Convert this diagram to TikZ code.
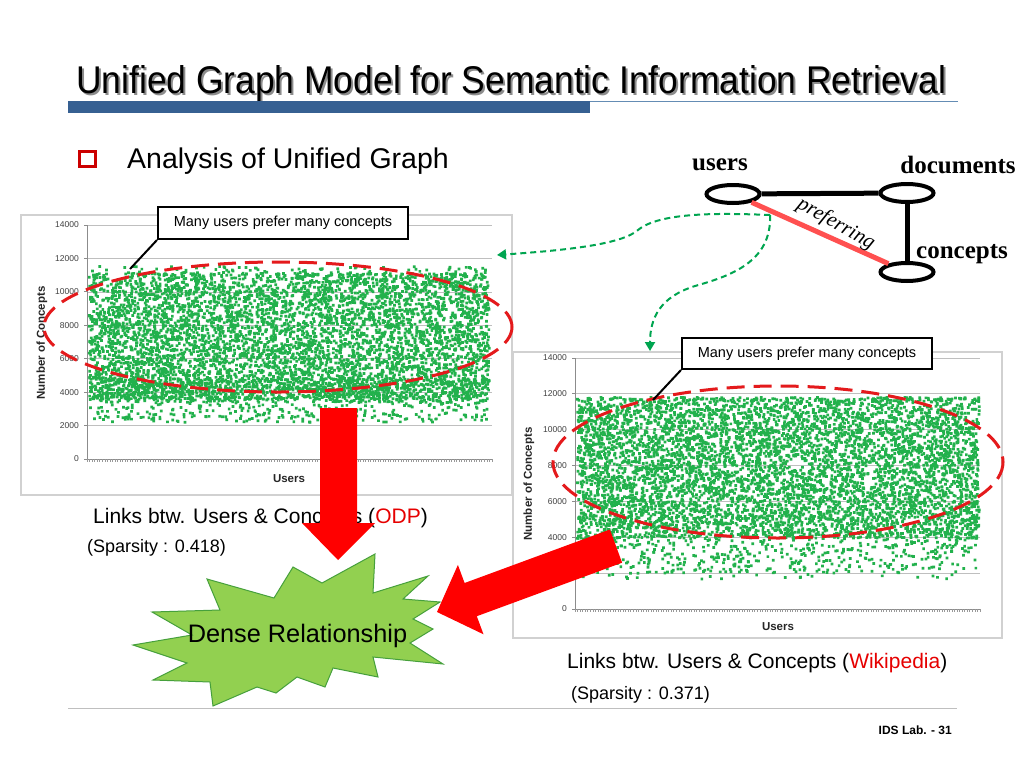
\documentclass[tikz,border=0pt]{standalone}
\usepackage{fontspec}
\setmainfont{Liberation Sans}
\newfontfamily\tnr{Liberation Serif}
\usepackage{graphicx}
\usetikzlibrary{arrows.meta,shapes.geometric}
\definecolor{barblue}{RGB}{54,96,146}
\definecolor{lineblue}{RGB}{100,140,180}
\definecolor{ptgreen}{RGB}{34,177,76}
\definecolor{hired}{RGB}{228,26,28}
\definecolor{flowgreen}{RGB}{0,165,80}
\definecolor{linkred}{RGB}{255,80,80}
\definecolor{starfill}{RGB}{146,208,80}
\definecolor{starline}{RGB}{70,160,60}
\definecolor{capred}{RGB}{230,0,0}
\tikzset{
  chartframe/.style={draw=black!18, line width=1.3, fill=white},
  gridline/.style={draw=black!25, line width=0.7},
  axisline/.style={draw=black!45, line width=0.8},
  ticklab/.style={font=\fontsize{8.5}{9}\selectfont, text=black!75, inner sep=0, anchor=east},
  axlab/.style={font=\bfseries\fontsize{11.5}{12}\selectfont, text=black!85, inner sep=0},
  pts/.style={fill=ptgreen},
  hilite/.style={draw=hired, line width=3, dash pattern=on 18pt off 9pt},
  callout/.style={draw=black, line width=2, fill=white, inner sep=0, minimum width=250, minimum height=32, font=\fontsize{14.5}{15}\selectfont},
  calloutline/.style={draw=black, line width=2},
  gnode/.style={ellipse, draw=black, line width=4, minimum width=53, minimum height=18, inner sep=0},
  glabel/.style={font=\tnr\bfseries\fontsize{25}{25}\selectfont, inner sep=0},
  link/.style={draw=black, line width=5},
  preflink/.style={draw=linkred, line width=5},
  flow/.style={draw=flowgreen, line width=2, dash pattern=on 6pt off 4pt, -{Triangle[length=9pt,width=10pt]}},
  bigarrow/.style={fill=red},
  caption/.style={font=\fontsize{21}{22}\selectfont, inner sep=0, anchor=base west},
  subcap/.style={font=\fontsize{18}{19}\selectfont, inner sep=0, anchor=base west}
}
% scatter helper: x0 width y0 height count-per-chunk chunks
\newcommand{\myscatter}[6]{%
  \foreach \c in {1,...,#6}{%
    \fill[pts] foreach \i in {1,...,#5} {({#1+#2*rnd},{#3+#4*rnd}) rectangle ++(2.7,2.7)};%
  }%
}
\begin{document}
\begin{tikzpicture}[x=1pt,y=-1pt]
\useasboundingbox (0,0) rectangle (1024,768);
\fill[white] (0,0) rectangle (1024,768);
\pgfmathsetseed{4242}
% ---------- title ----------
\node[anchor=base west, inner sep=0, text=black!45] (titleshadow) at (78,95) {\resizebox{870pt}{28pt}{\fontsize{39}{39}\selectfont Unified Graph Model for Semantic Information Retrieval}};
\node[anchor=base west, inner sep=0] (title) at (76,93) {\resizebox{870pt}{28pt}{\fontsize{39}{39}\selectfont Unified Graph Model for Semantic Information Retrieval}};
\fill[barblue] (68,101) rectangle (590,113);
\draw[lineblue, line width=1.2] (590,101.6) -- (958,101.6);
% ---------- bullet ----------
\draw[draw=red!80!black, line width=2.5] (79.5,151.5) rectangle (95.5,166.5);
\node[anchor=base west, inner sep=0, font=\fontsize{28.5}{30}\selectfont] (bullet) at (127,168) {Analysis of Unified Graph};
% ---------- left chart ----------
\draw[chartframe] (21,215) rectangle (512,495);
\foreach \k in {1,...,7}{
  \draw[gridline] (88,{459-\k*33.43}) -- (492,{459-\k*33.43});
}
\foreach \k in {0,...,7}{
  \pgfmathtruncatemacro\val{\k*2000}
  \node[ticklab] at (79,{459-\k*33.43}) {\val};
  \draw[axisline] (84,{459-\k*33.43}) -- (87,{459-\k*33.43});
}
\draw[axisline] (87,225) -- (87,459) -- (492,459);
\foreach \t in {0,...,160}{ \draw[draw=black!40, line width=0.4] ({87+\t*2.53},459) -- ({87+\t*2.53},462); }
\node[axlab, rotate=90] (lylab) at (42,343) {Number of Concepts};
\node[axlab] (lxlab) at (289,479) {Users};
\myscatter{88}{400}{272}{126}{250}{22}
\myscatter{88}{400}{377}{24}{175}{4}
\myscatter{88}{400}{399}{22}{150}{2}
\myscatter{88}{400}{265}{7}{80}{1}
\draw[hilite] (278,327) ellipse[x radius=234, y radius=65];
% ---------- right chart ----------
\draw[chartframe] (513,352) rectangle (1002,638);
\foreach \k in {1,...,7}{
  \draw[gridline] (576,{609-\k*35.86}) -- (980,{609-\k*35.86});
}
\foreach \k in {0,...,7}{
  \pgfmathtruncatemacro\val{\k*2000}
  \node[ticklab] at (567,{609-\k*35.86}) {\val};
  \draw[axisline] (572,{609-\k*35.86}) -- (575,{609-\k*35.86});
}
\draw[axisline] (575,358) -- (575,609) -- (980,609);
\foreach \t in {0,...,160}{ \draw[draw=black!40, line width=0.4] ({575+\t*2.53},609) -- ({575+\t*2.53},612); }
\node[axlab, rotate=90] (rylab) at (529,484) {Number of Concepts};
\node[axlab] (rxlab) at (778,627) {Users};
\myscatter{576}{402}{396}{141}{250}{25}
\myscatter{576}{402}{536}{36}{150}{3}
\myscatter{579}{395}{573}{5}{22}{1}
\draw[hilite] (778,462) ellipse[x radius=225, y radius=76];
% ---------- callouts ----------
\node[callout, anchor=north west] (callL) at (157,206) {Many users prefer many concepts};
\coordinate (callLtip) at (130,269);
\draw[calloutline] (callL.south west) -- (callLtip);
\node[callout, anchor=north west, minimum height=31] (callR) at (681,337) {Many users prefer many concepts};
\coordinate (callRtip) at (653,400);
\draw[calloutline] (callR.south west) -- (callRtip);
% ---------- unified graph ----------
\node[gnode] (users) at (733,194) {};
\node[gnode] (docs) at (907,193) {};
\node[gnode] (concepts) at (907,272) {};
\draw[link] (users) -- (docs);
\draw[link] (docs) -- (concepts);
\draw[preflink] (users) -- (concepts);
\node[glabel] (usersl) at (720,165) {users};
\node[glabel] (docsl) at (958,165) {documents};
\node[glabel] (conceptsl) at (962,254) {concepts};
\node[font=\tnr\itshape\fontsize{21}{21}\selectfont, rotate=-29, inner sep=0] (pref) at (836,224) {preferring};
% ---------- green flows ----------
\coordinate (src) at (770,215);
\coordinate (toLeft) at (497,255);
\coordinate (toRight) at (650,351);
\draw[flow] (src) .. controls (720,213) and (660,212) .. (638,230) .. controls (622,244) and (570,250) .. (toLeft);
\draw[flow] (src) .. controls (772,262) and (730,276) .. (695,286) .. controls (660,297) and (650,318) .. (toRight);
% ---------- captions ----------
\node[caption] (capL) at (93,523) {Links btw. Users \& Concepts (\textcolor{capred}{ODP})};
\node[subcap] (spL) at (87,552) {(Sparsity : 0.418)};
\node[caption] (capR) at (567,668) {Links btw. Users \& Concepts (\textcolor{capred}{Wikipedia})};
\node[subcap] (spR) at (571,699) {(Sparsity : 0.371)};
% ---------- star ----------
\filldraw[fill=starfill, draw=starline, line width=1] (375,554) -- (373,593) -- (428,576) -- (403,599) -- (440,602) -- (413,619) -- (433,629) -- (410,643) -- (443,664) -- (373,657) -- (378,677) -- (333,668) -- (325,687) -- (297,677) -- (276,693) -- (257,687) -- (213,706) -- (210,682) -- (153,680) -- (187,663) -- (133,645) -- (192,635) -- (152,612) -- (220,610) -- (207,579) -- (274,598) -- (293,567) -- (322,583) -- cycle;
\node[anchor=base, inner sep=0, font=\fontsize{25.3}{26}\selectfont] (dense) at (297.5,642) {Dense Relationship};
% ---------- big red arrows ----------
\fill[bigarrow] (320,408) -- (357,408) -- (357,523) -- (375,523) -- (338,560) -- (302,523) -- (320,523) -- cycle;
\fill[bigarrow] (437,612) -- (457.9,564.9) -- (464.6,583.0) -- (609.9,529.5) -- (622.1,562.7) -- (476.8,616.2) -- (483.5,634.3) -- cycle;
% ---------- footer ----------
\draw[draw=black!25, line width=1] (68,708) -- (957,708);
\node[anchor=base east, inner sep=0, font=\bfseries\fontsize{12}{12}\selectfont] (foot) at (952,734) {IDS Lab. - 31};
\end{tikzpicture}
\end{document}
